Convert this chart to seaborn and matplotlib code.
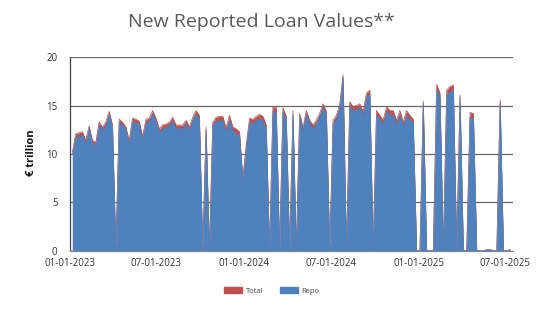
import matplotlib
matplotlib.use("Agg")
import matplotlib.pyplot as plt
import matplotlib.dates as mdates
from matplotlib.patches import Patch
import seaborn as sns
import pandas as pd
import numpy as np

# ---- data (weekly observations, € trillion) ----
start_date = "2023-01-06"
# top of stack (Total)
total = [
    10.2, 12.1, 12.2, 12.3, 11.4, 12.9, 11.4, 11.2, 13.3, 12.8,
    13.3, 14.4, 13.0, 0.0, 13.6, 13.3, 12.8, 11.4, 13.7, 13.6,
    13.4, 11.8, 13.6, 13.7, 14.5, 13.7, 12.6, 13.0, 13.1, 13.3,
    13.8, 13.0, 13.0, 13.0, 13.5, 12.8, 13.8, 14.5, 14.0, 0.0,
    12.8, 0.0, 13.3, 13.8, 13.9, 13.9, 12.7, 14.0, 12.8, 12.6,
    12.3, 7.5, 10.9, 13.7, 13.6, 13.9, 14.1, 13.9, 13.0, 0.0,
    14.9, 14.8, 0.0, 14.8, 13.9, 0.0, 14.5, 0.0, 14.2, 12.7,
    14.5, 13.5, 13.0, 13.5, 14.2, 15.2, 14.4, 0.0, 13.5, 14.0,
    15.1, 18.2, 0.0, 15.4, 14.9, 15.0, 15.2, 14.4, 16.3, 16.6,
    0.0, 14.5, 14.0, 13.5, 14.9, 14.5, 14.5, 13.5, 14.5, 13.3,
    14.5, 14.0, 13.6, 0.0, 0.0, 15.5, 0.0, 0.0, 0.0, 17.2,
    16.3, 0.0, 16.6, 17.0, 17.1, 0.0, 16.1, 0.0, 0.0, 14.3,
    14.2, 0.0, 0.0, 0.0, 0.1, 0.1, 0.0, 0.0, 15.6, 0.0,
    0.0, 0.1,
]
# thickness of the Total layer above Repo
other = [
    0.25, 0.35, 0.35, 0.35, 0.3, 0.3, 0.3, 0.3, 0.3, 0.3,
    0.3, 0.3, 0.3, 0.0, 0.3, 0.3, 0.3, 0.3, 0.35, 0.35,
    0.35, 0.3, 0.35, 0.35, 0.35, 0.35, 0.35, 0.35, 0.35, 0.35,
    0.35, 0.35, 0.35, 0.35, 0.35, 0.35, 0.35, 0.35, 0.35, 0.0,
    0.3, 0.0, 0.4, 0.45, 0.45, 0.45, 0.45, 0.45, 0.45, 0.45,
    0.4, 0.3, 0.35, 0.45, 0.45, 0.45, 0.45, 0.45, 0.45, 0.0,
    0.5, 0.5, 0.0, 0.4, 0.4, 0.0, 0.35, 0.0, 0.35, 0.35,
    0.35, 0.35, 0.35, 0.35, 0.35, 0.35, 0.35, 0.0, 0.35, 0.35,
    0.35, 0.3, 0.0, 0.4, 0.4, 0.4, 0.4, 0.4, 0.4, 0.4,
    0.0, 0.45, 0.45, 0.45, 0.45, 0.45, 0.45, 0.45, 0.45, 0.45,
    0.45, 0.45, 0.45, 0.0, 0.0, 0.25, 0.0, 0.0, 0.0, 0.5,
    0.5, 0.0, 0.55, 0.55, 0.55, 0.0, 0.3, 0.0, 0.0, 0.5,
    0.5, 0.0, 0.0, 0.0, 0.0, 0.0, 0.0, 0.0, 0.25, 0.0,
    0.0, 0.0,
]
series_names = ["Total", "Repo"]
tick_dates = ["2023-01-01", "2023-07-01", "2024-01-01", "2024-07-01", "2025-01-01", "2025-07-01"]
tick_labels = ["01-01-2023", "07-01-2023", "01-01-2024", "07-01-2024", "01-01-2025", "07-01-2025"]
y_ticks = [0, 5, 10, 15, 20]

# ---- styling ----
sns.set_style("white")
plt.rcParams["font.family"] = ["Open Sans", "DejaVu Sans"]

RED = "#C0504D"
BLUE = "#4F81BD"
GRID = "#666666"

dates = pd.date_range(start_date, periods=len(total), freq="7D")
total_a = np.array(total)
repo_a = total_a - np.array(other)
df = pd.DataFrame({"date": dates, "Total": total_a, "Repo": repo_a})

fig = plt.figure(figsize=(5.51, 3.10), dpi=100)
ax = fig.add_axes([70 / 551, 59.3 / 310, 443 / 551, 193.4 / 310])

ax.fill_between(df["date"], 0, df["Total"], color=RED, lw=0, zorder=2)
ax.fill_between(df["date"], 0, df["Repo"], color=BLUE, lw=0, zorder=3)
sns.lineplot(data=df, x="date", y="Total", color=RED, lw=0.5, ax=ax, zorder=2.5)
sns.lineplot(data=df, x="date", y="Repo", color=BLUE, lw=0.5, ax=ax, zorder=3.5)

ax.set_xlim(pd.Timestamp("2023-01-01"), pd.Timestamp("2025-07-17"))
ax.set_ylim(0, 20)
ax.set_yticks(y_ticks)
ax.set_yticklabels([str(v) for v in y_ticks], fontsize=7, color="#333333")
ax.set_xticks(pd.to_datetime(tick_dates))
ax.set_xticklabels(tick_labels, fontsize=7, color="#333333")
ax.set_xlabel("")
ax.set_ylabel("")

for v in y_ticks:
    ax.axhline(v, color=GRID, lw=0.9, zorder=1)

ax.tick_params(axis="y", length=7, width=0.9, color=GRID, pad=2)
ax.tick_params(axis="x", length=3, width=0.9, color=GRID, pad=2)
for s in ["top", "right"]:
    ax.spines[s].set_visible(False)
ax.spines["left"].set_color("#444444")
ax.spines["left"].set_linewidth(0.9)
ax.spines["bottom"].set_color("#888888")
ax.spines["bottom"].set_linewidth(0.9)

fig.text(261 / 551, 0.928, "New Reported Loan Values**", ha="center", va="center",
         fontsize=14, color="#595959")
fig.text(32 / 551, 0.506, "€ trillion", rotation=90, ha="center", va="center",
         fontsize=8, fontweight="bold", color="#111111")

handles = [Patch(facecolor=RED, edgecolor=RED, label=series_names[0]),
           Patch(facecolor=BLUE, edgecolor=BLUE, label=series_names[1])]
fig.legend(handles=handles, loc="center", bbox_to_anchor=(272 / 551, 1 - 291 / 310),
           ncol=2, frameon=False, fontsize=5.5, handlelength=2.3, handleheight=0.9,
           columnspacing=2.2, handletextpad=0.5, labelcolor="#444444")

fig.savefig("out.png", dpi=100)
